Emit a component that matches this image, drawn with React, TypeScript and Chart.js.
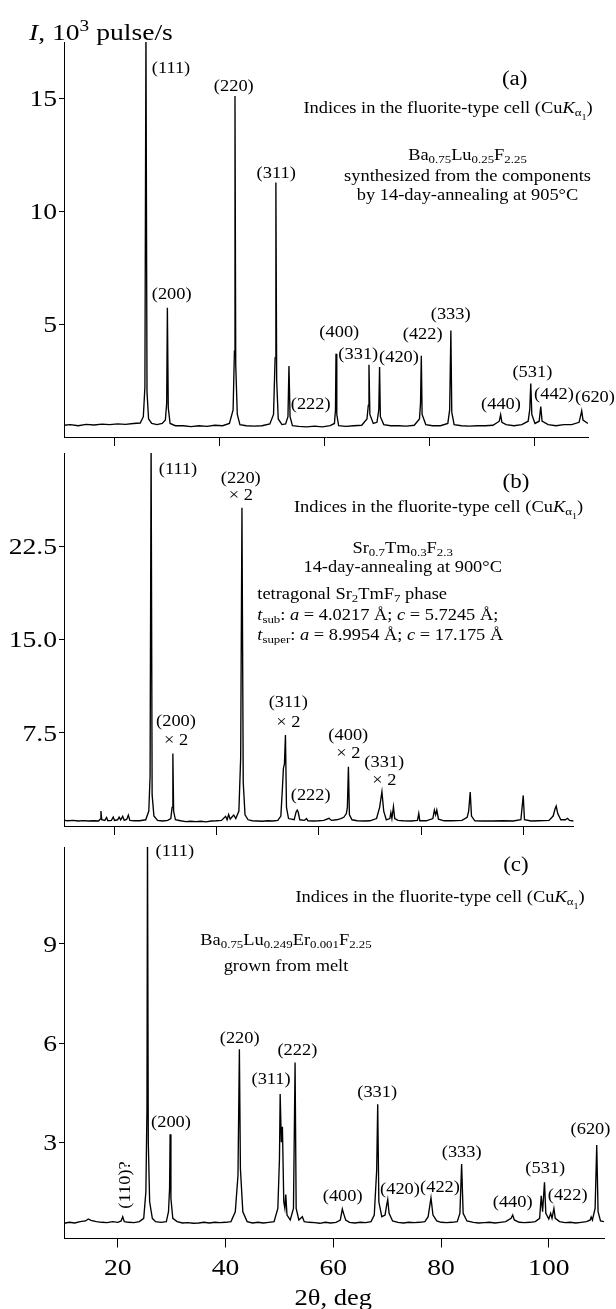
import { useEffect, useRef } from "react";
import { Chart, registerables } from "chart.js";

Chart.register(...registerables);

const SERIF = '"Liberation Serif", "Times New Roman", serif';
const STRETCH = 1.15;
const TICK_SIZE = 24;

// ---------- panel (a): Ba0.75Lu0.25F2.25, annealed 14 days at 905°C ----------
const thetaA = [
  10.3, 11.5, 13, 14.5, 16, 17.5, 19, 20.5, 22, 23.5, 24.8, 25.4, 25.7, 25.9, 26.1, 26.4, 27, 28, 29,
  29.6, 29.85, 29.98, 30.15, 30.5, 31.5, 33, 34.5, 36, 37.5, 39, 40.5, 41.8, 42.5, 42.75, 42.86, 43.0,
  43.3, 43.8, 45, 46.5, 48, 49.5, 50.2, 50.5, 50.65, 50.8, 51.1, 51.8, 52.5, 52.95, 53.14, 53.35, 53.8,
  55, 56.5, 58, 59.5, 61, 61.8, 62.0, 62.1, 62.25, 62.6, 64, 65.5, 67, 68.0, 68.25, 68.38, 68.55, 69.2,
  69.9, 70.25, 70.4, 70.55, 71.2, 72.5, 74, 75.5, 77, 78.0, 78.2, 78.35, 78.5, 79.2, 80.5, 82, 83.4,
  83.75, 83.98, 84.15, 84.6, 86, 87.5, 89, 90.5, 92, 93.2, 93.46, 93.7, 94.5, 96, 97.5, 98.7, 99.0,
  99.2, 99.4, 100.0, 100.8, 101.1, 101.35, 102.5, 104, 105.5, 107, 108.4, 108.75, 108.9, 109.15, 110.1,
];
const countsA = [
  0.52, 0.55, 0.5, 0.56, 0.53, 0.57, 0.55, 0.58, 0.56, 0.6, 0.62, 0.9, 2.2, 18, 2.0, 0.8, 0.6, 0.55, 0.6,
  0.75, 1.5, 5.73, 1.3, 0.6, 0.5, 0.5, 0.46, 0.5, 0.47, 0.52, 0.5, 0.6, 1.2, 3.8, 15.11, 3.2,
  1.0, 0.55, 0.5, 0.48, 0.5, 0.58, 1.0, 3.5, 11.28, 2.5, 0.8, 0.55, 0.58, 0.9, 3.15, 0.9, 0.5,
  0.47, 0.45, 0.48, 0.45, 0.5, 0.6, 1.2, 3.69, 1.0, 0.5, 0.47, 0.5, 0.52, 0.8, 1.4, 3.2, 1.0, 0.6,
  0.65, 1.2, 3.1, 0.9, 0.55, 0.5, 0.5, 0.48, 0.52, 0.8, 1.5, 3.6, 1.0, 0.55, 0.5, 0.5, 0.6,
  1.2, 4.72, 1.1, 0.55, 0.5, 0.48, 0.5, 0.5, 0.52, 0.7, 0.99, 0.65, 0.55, 0.5, 0.55, 0.7, 1.2,
  2.37, 1.0, 0.6, 0.7, 1.35, 0.7, 0.55, 0.5, 0.55, 0.55, 0.65, 1.0, 1.16, 0.75, 0.6,
];

// ---------- panel (b): Sr0.7Tm0.3F2.3, annealed 14 days at 900°C ----------
const thetaB = [
  10.23, 11, 12, 13, 14, 15, 16, 17, 17.3, 17.45, 17.6, 18.2, 18.55, 18.8, 19.5, 19.85, 20.1, 20.7, 21.0,
  21.3, 21.7, 22.0, 22.5, 22.8, 23.1, 24, 25, 26.2, 26.8, 27.05, 27.25, 27.45, 27.8, 28.5, 29.5, 30.5,
  31.1, 31.35, 31.5, 31.65, 32.0, 33, 34, 35, 36, 37, 38, 39, 40, 41, 41.8, 42.1, 42.4, 42.7, 43.0,
  43.4, 43.8, 44.4, 44.75, 45.0, 45.25, 45.6, 46.2, 47, 48, 49, 50, 51, 52, 52.6, 52.9, 53.1, 53.3,
  53.5, 53.7, 54.1, 55.2, 55.6, 55.8, 56.0, 56.3, 57.2, 57.6, 57.9, 59, 60, 61, 62.0, 62.5, 63.5, 64.3,
  64.9, 65.4, 65.6, 65.8, 66.0, 66.5, 67.5, 69, 70, 71.3, 71.9, 72.35, 72.7, 73.2, 73.9, 74.1, 74.3,
  74.6, 74.85, 75.5, 76.5, 78, 79.3, 79.55, 79.75, 81, 82.3, 82.6, 82.85, 83.07, 83.4, 84.5, 86, 88,
  89.0, 89.3, 89.6, 89.85, 90.5, 92, 94, 96, 98, 99.5, 99.96, 100.2, 101.5, 103, 105, 105.8, 106.2,
  106.4, 106.7, 107.3, 108.2, 108.6, 109, 109.8,
];
const countsB = [
  0.45, 0.42, 0.45, 0.4, 0.43, 0.4, 0.42, 0.4, 0.55, 1.2, 0.5, 0.45, 0.68, 0.42, 0.45, 0.72, 0.45, 0.5, 0.72,
  0.5, 0.78, 0.45, 0.55, 0.88, 0.45, 0.42, 0.42, 0.5, 1.2, 4.0, 31, 2.5, 0.8, 0.45, 0.4, 0.45,
  0.6, 1.5, 5.84, 1.2, 0.5, 0.42, 0.35, 0.38, 0.35, 0.38, 0.33, 0.4, 0.42, 0.45, 0.78, 0.5, 0.92, 0.55, 0.7,
  0.88, 0.6, 1.2, 5.5, 25.6, 3.5, 0.9, 0.5, 0.42, 0.4, 0.38, 0.42, 0.4, 0.45, 0.8, 3.0, 4.63, 5.0,
  7.32, 1.5, 0.6, 0.5, 1.15, 1.28, 1.1, 0.5, 0.45, 0.6, 0.42, 0.4, 0.42, 0.45, 0.62, 0.45, 0.5, 0.6,
  0.7, 1.0, 1.5, 4.77, 0.9, 0.5, 0.42, 0.4, 0.42, 0.6, 1.5, 2.76, 1.2, 0.5, 0.6, 1.07, 0.6,
  1.55, 0.6, 0.45, 0.42, 0.4, 0.45, 1.01, 0.42, 0.42, 0.6, 1.28, 0.9, 1.28, 0.55, 0.42, 0.42, 0.45,
  0.7, 1.2, 2.73, 0.8, 0.42, 0.4, 0.4, 0.42, 0.4, 0.5, 2.46, 0.5, 0.4, 0.42, 0.45, 0.8, 1.4,
  1.6, 1.0, 0.5, 0.5, 0.62, 0.45, 0.4,
];

// ---------- panel (c): Ba0.75Lu0.249Er0.001F2.25, grown from melt ----------
const thetaC = [
  10, 11, 12, 13, 14, 14.5, 15, 16, 17, 18, 19, 20, 20.6, 20.9, 21.2, 22, 23, 24, 24.8, 25.2, 25.4, 25.5,
  25.65, 25.9, 26.4, 27, 28, 29, 29.4, 29.6, 29.7, 29.85, 30.2, 31, 32, 33, 34, 35, 36, 37, 38, 39, 40,
  41, 41.8, 42.3, 42.56, 42.75, 43.2, 44, 45, 46, 47, 48, 49, 49.7, 50.0, 50.13, 50.35, 50.55, 50.8,
  51.0, 51.17, 51.4, 52.0, 52.6, 52.9, 53.1, 53.6, 54.25, 54.6, 55.5, 56.5, 57.5, 58.5, 59.5, 60.5,
  61.3, 61.67, 61.9, 62.3, 63, 64, 65, 66, 67, 67.6, 68.05, 68.24, 68.45, 69.0, 69.6, 69.9, 70.1,
  70.35, 71, 72, 73, 74, 75, 76, 77, 77.6, 78.13, 78.5, 79.2, 80, 81, 82, 83, 83.5, 83.82, 84.1, 84.8,
  86, 87, 88, 89, 90, 91, 92, 93.0, 93.3, 93.6, 94.5, 95.5, 96.5, 97.5, 98.3, 98.6, 98.85, 99.2, 99.45,
  100.0, 100.35, 100.6, 100.95, 101.2, 102, 103, 104, 105, 106, 107, 107.7, 107.87, 108.1, 108.6,
  108.9, 109.15, 109.6, 110.25,
];
const countsC = [
  0.55, 0.58, 0.56, 0.6, 0.62, 0.68, 0.64, 0.6, 0.58, 0.57, 0.6, 0.58, 0.62, 0.75, 0.6, 0.58, 0.57, 0.6, 0.7, 1.5, 4.0, 12.5,
  3.0, 1.2, 0.7, 0.6, 0.58, 0.6, 0.9, 1.6, 3.24, 1.3, 0.7, 0.6, 0.56, 0.57, 0.55, 0.56, 0.58, 0.56, 0.58, 0.57, 0.58,
  0.6, 0.9, 2.0, 5.81, 2.2, 0.9, 0.6, 0.56, 0.58, 0.56, 0.58, 0.6, 1.0, 2.5, 4.46, 3.0, 3.47, 1.2,
  1.0, 1.42, 0.8, 0.65, 1.0, 5.41, 1.0, 0.65, 0.75, 0.6, 0.58, 0.57, 0.55, 0.58, 0.56, 0.58,
  0.65, 0.98, 0.85, 0.65, 0.58, 0.56, 0.58, 0.57, 0.6, 0.8, 2.16, 4.15, 1.2, 0.75, 0.8, 1.1, 1.27,
  0.85, 0.62, 0.58, 0.56, 0.58, 0.57, 0.58, 0.6, 0.75, 1.32, 0.8, 0.62, 0.58, 0.57, 0.58, 0.6, 0.85, 2.34, 0.85, 0.62,
  0.58, 0.56, 0.57, 0.58, 0.56, 0.58, 0.6, 0.7, 0.8, 0.65, 0.58, 0.57, 0.58, 0.6, 0.7, 1.38, 0.9, 1.79, 0.85,
  0.68, 0.85, 0.7, 1.0, 0.7, 0.6, 0.57, 0.58, 0.56, 0.58, 0.6, 0.65, 0.74, 0.65, 1.0,
  2.92, 0.9, 0.62, 0.6,
];

// axis ticks
const xTickValues = [20, 40, 60, 80, 100];
const yTicksA = [5, 10, 15];
const yTicksB = [7.5, 15, 22.5];
const yTicksC = [3, 6, 9];
const yTickLabelsA = ["5", "10", "15"];
const yTickLabelsB = ["7.5", "15.0", "22.5"];
const yTickLabelsC = ["3", "6", "9"];

type SegKind = "i" | "sub" | "sup" | "sub2";
type Seg = { t: string; k?: SegKind };
type Label = { x: number; y: number; segs: Seg[]; size?: number; align?: "left" | "center"; rot?: number };

const T = (t: string): Seg[] => [{ t }];
const CUKA: Seg[] = [
  { t: "Indices in the fluorite-type cell (Cu" },
  { t: "K", k: "i" },
  { t: "α", k: "sub" },
  { t: "1", k: "sub2" },
  { t: ")" },
];

// text placed on each panel (page coordinates)
const labelsA: Label[] = [
  { x: 29, y: 33, segs: [{ t: "I", k: "i" }, { t: ", 10" }, { t: "3", k: "sup" }, { t: " pulse/s" }], size: 24, align: "left" },
  { x: 514.7, y: 79, segs: T("(a)"), size: 20 },
  { x: 448, y: 108, segs: CUKA },
  { x: 467.5, y: 155, segs: [{ t: "Ba" }, { t: "0.75", k: "sub" }, { t: "Lu" }, { t: "0.25", k: "sub" }, { t: "F" }, { t: "2.25", k: "sub" }] },
  { x: 467.5, y: 176, segs: T("synthesized from the components") },
  { x: 467.5, y: 195, segs: T("by 14-day-annealing at 905°C") },
  { x: 171, y: 68, segs: T("(111)") },
  { x: 233.8, y: 86, segs: T("(220)") },
  { x: 276.2, y: 173, segs: T("(311)") },
  { x: 171.7, y: 294, segs: T("(200)") },
  { x: 310.7, y: 404.3, segs: T("(222)") },
  { x: 339.3, y: 332.3, segs: T("(400)") },
  { x: 358.3, y: 354, segs: T("(331)") },
  { x: 399, y: 356.7, segs: T("(420)") },
  { x: 422.7, y: 334.3, segs: T("(422)") },
  { x: 450.7, y: 314.3, segs: T("(333)") },
  { x: 501, y: 404, segs: T("(440)") },
  { x: 532.4, y: 372, segs: T("(531)") },
  { x: 554, y: 394, segs: T("(442)") },
  { x: 595, y: 397, segs: T("(620)") },
];

const labelsB: Label[] = [
  { x: 178, y: 469, segs: T("(111)") },
  { x: 240.8, y: 478, segs: T("(220)") },
  { x: 240.8, y: 495, segs: T("× 2") },
  { x: 515.9, y: 482, segs: T("(b)"), size: 20 },
  { x: 438.5, y: 507, segs: CUKA },
  { x: 402.7, y: 548, segs: [{ t: "Sr" }, { t: "0.7", k: "sub" }, { t: "Tm" }, { t: "0.3", k: "sub" }, { t: "F" }, { t: "2.3", k: "sub" }] },
  { x: 402.7, y: 567, segs: T("14-day-annealing at 900°C") },
  { x: 257.3, y: 594, align: "left", segs: [{ t: "tetragonal Sr" }, { t: "2", k: "sub" }, { t: "TmF" }, { t: "7", k: "sub" }, { t: " phase" }] },
  { x: 257.3, y: 615, align: "left", segs: [{ t: "t", k: "i" }, { t: "sub", k: "sub" }, { t: ": " }, { t: "a", k: "i" }, { t: " = 4.0217 Å; " }, { t: "c", k: "i" }, { t: " = 5.7245 Å;" }] },
  { x: 257.3, y: 635, align: "left", segs: [{ t: "t", k: "i" }, { t: "super", k: "sub" }, { t: ": " }, { t: "a", k: "i" }, { t: " = 8.9954 Å; " }, { t: "c", k: "i" }, { t: " = 17.175 Å" }] },
  { x: 176, y: 721, segs: T("(200)") },
  { x: 176, y: 740, segs: T("× 2") },
  { x: 288.3, y: 702.3, segs: T("(311)") },
  { x: 288.3, y: 722.3, segs: T("× 2") },
  { x: 310.7, y: 795, segs: T("(222)") },
  { x: 348.3, y: 735, segs: T("(400)") },
  { x: 348.3, y: 752.7, segs: T("× 2") },
  { x: 384.3, y: 762.3, segs: T("(331)") },
  { x: 384.3, y: 780, segs: T("× 2") },
];

const labelsC: Label[] = [
  { x: 174.8, y: 851, segs: T("(111)") },
  { x: 515.9, y: 865, segs: T("(c)"), size: 20 },
  { x: 440, y: 897, segs: CUKA },
  { x: 286, y: 940, segs: [{ t: "Ba" }, { t: "0.75", k: "sub" }, { t: "Lu" }, { t: "0.249", k: "sub" }, { t: "Er" }, { t: "0.001", k: "sub" }, { t: "F" }, { t: "2.25", k: "sub" }] },
  { x: 286, y: 966, segs: T("grown from melt") },
  { x: 239.7, y: 1038, segs: T("(220)") },
  { x: 297.4, y: 1050, segs: T("(222)") },
  { x: 271.1, y: 1079, segs: T("(311)") },
  { x: 377.2, y: 1092, segs: T("(331)") },
  { x: 171, y: 1122.3, segs: T("(200)") },
  { x: 590.5, y: 1129, segs: T("(620)") },
  { x: 461.7, y: 1152.3, segs: T("(333)") },
  { x: 545.3, y: 1168, segs: T("(531)") },
  { x: 400, y: 1189.3, segs: T("(420)") },
  { x: 440, y: 1186.7, segs: T("(422)") },
  { x: 342.7, y: 1196, segs: T("(400)") },
  { x: 512.7, y: 1202, segs: T("(440)") },
  { x: 567.7, y: 1195, segs: T("(422)") },
  { x: 125, y: 1185, segs: T("(110)?"), rot: -Math.PI / 2 },
  { x: 333.2, y: 1298, segs: T("2θ, deg"), size: 23 },
];

type Panel = {
  theta: number[];
  counts: number[];
  top: number;
  height: number;
  padTop: number;
  padRight: number;
  xAxisH: number;
  xMin: number;
  xMax: number;
  yMin: number;
  yMax: number;
  yTicks: number[];
  yTickLabels: string[];
  xLabels: boolean;
  labels: Label[];
};

const PANELS: Panel[] = [
  { theta: thetaA, counts: countsA, top: 0, height: 448, padTop: 42, padRight: 28, xAxisH: 11, xMin: 10.29, xMax: 110.1, yMin: 0, yMax: 17.5, yTicks: yTicksA, yTickLabels: yTickLabelsA, xLabels: false, labels: labelsA },
  { theta: thetaB, counts: countsB, top: 448, height: 392, padTop: 5, padRight: 42.4, xAxisH: 14, xMin: 10.23, xMax: 109.8, yMin: 0, yMax: 30, yTicks: yTicksB, yTickLabels: yTickLabelsB, xLabels: false, labels: labelsB },
  { theta: thetaC, counts: countsC, top: 840, height: 469, padTop: 7, padRight: 12, xAxisH: 70.5, xMin: 10, xMax: 110.25, yMin: 0.09, yMax: 11.93, yTicks: yTicksC, yTickLabels: yTickLabelsC, xLabels: true, labels: labelsC },
];

function segStyle(k: SegKind | undefined, size: number) {
  switch (k) {
    case "i":
      return { fs: size, dy: 0, italic: true };
    case "sub":
      return { fs: size * 0.7, dy: size * 0.22, italic: false };
    case "sup":
      return { fs: size * 0.7, dy: -size * 0.38, italic: false };
    case "sub2":
      return { fs: size * 0.55, dy: size * 0.42, italic: false };
    default:
      return { fs: size, dy: 0, italic: false };
  }
}

function drawRich(ctx: CanvasRenderingContext2D, lab: Label, offsetY: number) {
  const size = lab.size ?? 16;
  const align = lab.align ?? "center";
  const parts = lab.segs.map((s) => {
    const st = segStyle(s.k, size);
    const font = `${st.italic ? "italic " : ""}${st.fs}px ${SERIF}`;
    ctx.font = font;
    return { t: s.t, font, dy: st.dy, w: ctx.measureText(s.t).width };
  });
  const total = parts.reduce((a, p) => a + p.w, 0);
  ctx.save();
  ctx.translate(lab.x, lab.y - offsetY);
  if (lab.rot) ctx.rotate(lab.rot);
  ctx.scale(STRETCH, 1);
  ctx.fillStyle = "#000";
  ctx.textAlign = "left";
  ctx.textBaseline = "alphabetic";
  let cx = align === "center" ? -total / 2 : 0;
  const base = size * 0.3;
  for (const p of parts) {
    ctx.font = p.font;
    ctx.fillText(p.t, cx, base + p.dy);
    cx += p.w;
  }
  ctx.restore();
}

function makeConfig(p: Panel): any {
  const textPlugin = {
    id: "panelText",
    afterDraw(chart: any) {
      const ctx: CanvasRenderingContext2D = chart.ctx;
      const xs = chart.scales.x;
      const ys = chart.scales.y;
      const area = chart.chartArea;
      // y tick labels, right-aligned against the tick marks
      p.yTicks.forEach((v, i) => {
        const py = ys.getPixelForValue(v);
        ctx.save();
        ctx.font = `${TICK_SIZE}px ${SERIF}`;
        const w = ctx.measureText(p.yTickLabels[i]).width * STRETCH;
        ctx.translate(area.left - 7 - w, py);
        ctx.scale(STRETCH, 1);
        ctx.fillStyle = "#000";
        ctx.textBaseline = "alphabetic";
        ctx.fillText(p.yTickLabels[i], 0, TICK_SIZE * 0.33);
        ctx.restore();
      });
      // x tick labels (bottom panel only)
      if (p.xLabels) {
        xTickValues.forEach((v) => {
          const px = xs.getPixelForValue(v);
          drawRich(ctx, { x: px, y: area.bottom + 29.5 + p.top, segs: T(String(v)), size: TICK_SIZE }, p.top);
        });
      }
      p.labels.forEach((lab) => drawRich(ctx, lab, p.top));
    },
  };

  const tickList = (vals: number[]) => (s: any) => {
    s.ticks = vals.map((value) => ({ value }));
  };

  return {
    type: "line",
    data: {
      datasets: [
        {
          data: p.theta.map((x, i) => ({ x, y: p.counts[i] })),
          borderColor: "#000",
          borderWidth: 1.35,
          pointRadius: 0,
          tension: 0,
          fill: false,
        },
      ],
    },
    options: {
      animation: false,
      responsive: false,
      devicePixelRatio: 1,
      events: [],
      layout: { padding: { top: p.padTop, right: p.padRight, left: 0, bottom: 0 } },
      plugins: { legend: { display: false }, tooltip: { enabled: false } },
      scales: {
        x: {
          type: "linear",
          min: p.xMin,
          max: p.xMax,
          afterBuildTicks: tickList(xTickValues),
          afterFit: (s: any) => {
            s.height = p.xAxisH;
            s.paddingLeft = 0;
            s.paddingRight = 0;
          },
          ticks: { display: false },
          grid: { display: true, drawOnChartArea: false, drawTicks: true, tickLength: 9, color: "#000", lineWidth: 1 },
          border: { display: true, color: "#000", width: 1 },
        },
        y: {
          type: "linear",
          min: p.yMin,
          max: p.yMax,
          afterBuildTicks: tickList(p.yTicks),
          afterFit: (s: any) => {
            s.width = 64;
            s.paddingTop = 0;
            s.paddingBottom = 0;
          },
          ticks: { display: false },
          grid: { display: true, drawOnChartArea: false, drawTicks: true, tickLength: 5, color: "#000", lineWidth: 1 },
          border: { display: true, color: "#000", width: 1 },
        },
      },
    },
    plugins: [textPlugin],
  };
}

export default function App() {
  const refs = useRef<(HTMLCanvasElement | null)[]>([]);

  useEffect(() => {
    const charts = PANELS.map((p, i) => new Chart(refs.current[i] as HTMLCanvasElement, makeConfig(p)));
    return () => charts.forEach((c) => c.destroy());
  }, []);

  return (
    <div style={{ position: "absolute", left: 0, top: 0, width: 616, height: 1309, background: "#fff" }}>
      {PANELS.map((p, i) => (
        <canvas
          key={i}
          ref={(el) => {
            refs.current[i] = el;
          }}
          width={616}
          height={p.height}
          style={{ position: "absolute", left: 0, top: p.top, width: 616, height: p.height }}
        />
      ))}
    </div>
  );
}
